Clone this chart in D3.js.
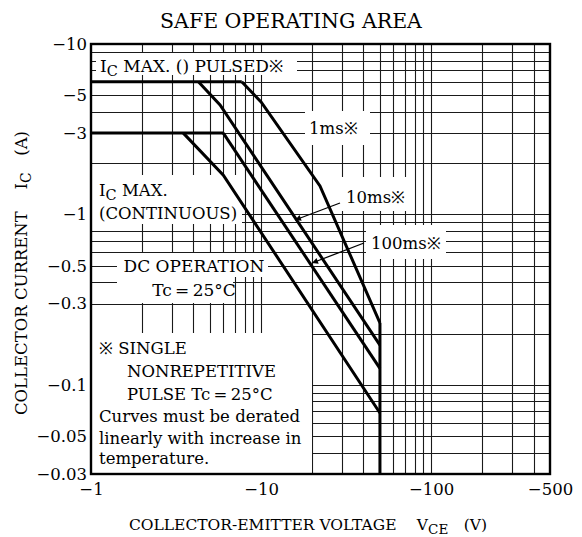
<!DOCTYPE html>
<html><head><meta charset="utf-8">
<script src="https://cdn.jsdelivr.net/npm/d3@7"></script>
<style>
html,body{margin:0;padding:0;background:#fff;}
svg text{font-family:"DejaVu Serif",serif;fill:#000;}
</style></head>
<body>
<svg id="chart" width="582" height="537"></svg>
<script>
// ---- data (magnitudes; axes labelled negative, PNP device) ----
const xTickValues = [1, 10, 100, 500];
const xTickLabels = ["\u22121", "\u221210", "\u2212100", "\u2212500"];
const yTickValues = [10, 5, 3, 1, 0.5, 0.3, 0.1, 0.05, 0.03];
const yTickLabels = ["\u221210", "\u22125", "\u22123", "\u22121", "\u22120.5", "\u22120.3", "\u22120.1", "\u22120.05", "\u22120.03"];

const icPulsedMax = [[1, 6], [7.7, 6]];
const icContMax   = [[1, 3], [6.0, 3]];
const curve1ms    = [[7.7, 6], [10, 4.57], [22.2, 1.47], [50, 0.231]];
const curve10ms   = [[4.28, 6], [5.74, 4.39], [50, 0.171]];
const curve100ms  = [[6.0, 3], [50, 0.125]];
const curveDC     = [[3.49, 3], [6.0, 1.70], [50, 0.0684]];
const vceoLimit   = [[50, 0.231], [50, 0.03]];

const svg = d3.select("#chart");
const L = 91, R = 550, T = 44, B = 474;
const x = d3.scaleLog().domain([1, 500]).range([L, R]);
const y = d3.scaleLog().domain([0.03, 10]).range([B, T]);

// grid
const xg = x.ticks().filter(v => v > 1 && v < 500);
const yg = y.ticks().filter(v => v > 0.03 && v < 10);
const grid = svg.append("g").attr("stroke", "#1a1a1a").attr("stroke-width", 1.1);
grid.selectAll("line.v").data(xg).join("line")
  .attr("x1", d => Math.round(x(d)) + 0.5).attr("x2", d => Math.round(x(d)) + 0.5)
  .attr("y1", T).attr("y2", B);
grid.selectAll("line.h").data(yg).join("line")
  .attr("y1", d => Math.round(y(d)) + 0.5).attr("y2", d => Math.round(y(d)) + 0.5)
  .attr("x1", L).attr("x2", R);

// white label backgrounds (mask grid like the datasheet)
const boxes = [
  [96, 53, 297, 75],     // pulsed label
  [305, 111, 370, 145],  // 1ms
  [338, 177, 410, 211],  // 10ms
  [366, 225, 446, 259],  // 100ms
  [92, 175, 242, 224],   // continuous label
  [117, 253, 268, 277],  // DC OPERATION
  [117, 277, 233, 303],  // Tc=25C
  [92, 333, 312, 473]    // note
];
svg.append("g").selectAll("rect").data(boxes).join("rect")
  .attr("x", d => d[0]).attr("y", d => d[1])
  .attr("width", d => d[2] - d[0]).attr("height", d => d[3] - d[1])
  .attr("fill", "#fff");

// frame
svg.append("rect").attr("x", L).attr("y", T).attr("width", R - L).attr("height", B - T)
  .attr("fill", "none").attr("stroke", "#000").attr("stroke-width", 2.4);

// axes tick labels
const yAxis = d3.axisLeft(y).tickValues(yTickValues)
  .tickFormat((d, i) => yTickLabels[i]).tickSize(0).tickPadding(4);
const gy = svg.append("g").attr("transform", `translate(${L},0)`).call(yAxis);
gy.select(".domain").remove();
gy.selectAll("text").attr("font-family", "DejaVu Serif").attr("font-size", 16.5).attr("fill", "#000");

const xAxis = d3.axisBottom(x).tickValues(xTickValues)
  .tickFormat((d, i) => xTickLabels[i]).tickSize(0).tickPadding(9);
const gx = svg.append("g").attr("transform", `translate(0,${B})`).call(xAxis);
gx.select(".domain").remove();
gx.selectAll("text").attr("font-family", "DejaVu Serif").attr("font-size", 16.5).attr("fill", "#000");

// curves
const line = d3.line().x(d => x(d[0])).y(d => y(d[1]));
const curves = [icPulsedMax, icContMax, curve1ms, curve10ms, curve100ms, curveDC, vceoLimit];
svg.append("g").selectAll("path").data(curves).join("path")
  .attr("d", line).attr("fill", "none").attr("stroke", "#000")
  .attr("stroke-width", 3).attr("stroke-linejoin", "miter");

// arrows
svg.append("defs").append("marker").attr("id", "ah")
  .attr("viewBox", "0 0 10 10").attr("refX", 10).attr("refY", 5)
  .attr("markerWidth", 8).attr("markerHeight", 6).attr("orient", "auto")
  .attr("markerUnits", "userSpaceOnUse")
  .append("path").attr("d", "M0,0L10,5L0,10z").attr("fill", "#000");
const arrows = [[340, 203, 295, 220], [364, 243, 312, 263]];
svg.append("g").selectAll("line").data(arrows).join("line")
  .attr("x1", d => d[0]).attr("y1", d => d[1]).attr("x2", d => d[2]).attr("y2", d => d[3])
  .attr("stroke", "#000").attr("stroke-width", 1.3).attr("marker-end", "url(#ah)");

// texts
function txt(xx, yy, s, size, anchor) {
  return svg.append("text").attr("x", xx).attr("y", yy)
    .attr("font-size", size).attr("text-anchor", anchor || "start");
}
txt(291, 28, "", 20.5, "middle").text("SAFE OPERATING AREA");

let t = txt(100, 72, "", 17);
t.append("tspan").text("I");
t.append("tspan").attr("dy", 4).attr("font-size", 14.5).text("C");
t.append("tspan").attr("dy", -4).text(" MAX. () PULSED\u203B");

txt(309, 134, "", 16.5).text("1ms\u203B");
txt(346, 203, "", 16.5).text("10ms\u203B");
txt(371, 249, "", 16.5).text("100ms\u203B");

t = txt(99, 196, "", 16.5);
t.append("tspan").text("I");
t.append("tspan").attr("dy", 4).attr("font-size", 14.5).text("C");
t.append("tspan").attr("dy", -4).text(" MAX.");
txt(99, 219, "", 16.5).text("(CONTINUOUS)");

txt(194, 272, "", 17, "middle").text("DC OPERATION");
txt(194, 296, "", 17, "middle").text("Tc\u2009=\u200925\u00B0C");

txt(99, 354, "", 16.5).text("\u203B SINGLE");
txt(127, 377, "", 16.5).text("NONREPETITIVE");
txt(127, 400, "", 16.5).text("PULSE  Tc\u2009=\u200925\u00B0C");
txt(99, 422, "", 16.5).text("Curves must be derated");
txt(99, 444, "", 16.5).text("linearly with increase in");
txt(99, 464, "", 16.5).text("temperature.");

// axis titles
t = txt(308, 530, "", 15.5, "middle");
t.append("tspan").text("COLLECTOR-EMITTER VOLTAGE\u2003 V");
t.append("tspan").attr("dy", 4).attr("font-size", 13.5).text("CE");
t.append("tspan").attr("dy", -4).text("\u2003(V)");

t = svg.append("text").attr("transform", "translate(27,273) rotate(-90)")
  .attr("text-anchor", "middle").attr("font-size", 16.5);
t.append("tspan").text("COLLECTOR CURRENT\u2003 I");
t.append("tspan").attr("dy", 4).attr("font-size", 14).text("C");
t.append("tspan").attr("dy", -4).text("\u2003(A)");
</script>
</body></html>
